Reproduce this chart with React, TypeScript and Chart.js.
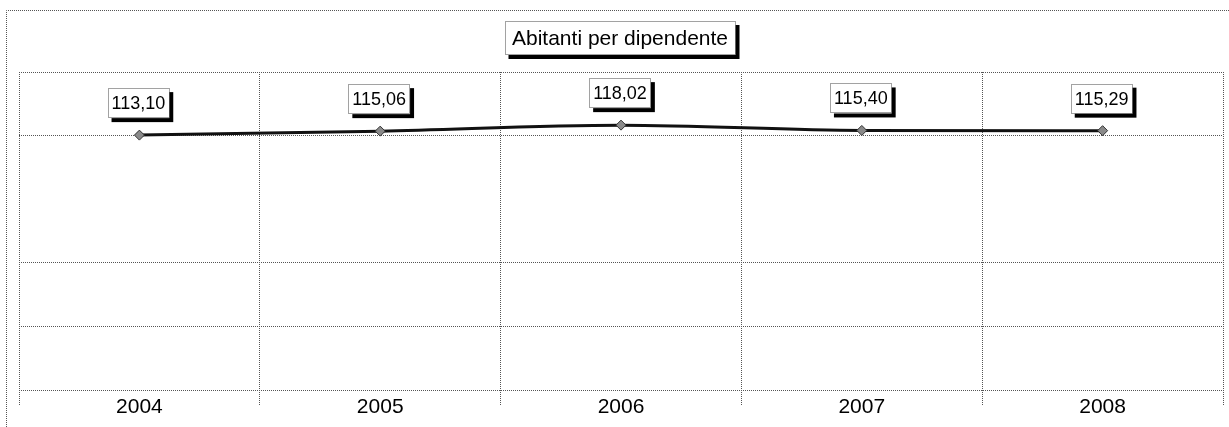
import React, { useEffect, useRef } from "react";
import { Chart, registerables } from "chart.js";

Chart.register(...registerables);

const TITLE = "Abitanti per dipendente";
const YEARS = ["2004", "2005", "2006", "2007", "2008"];
const VALUES = [113.10, 115.06, 118.02, 115.40, 115.29];
const Y_MIN = -12.5;
const Y_MAX = 144.2;
const Y_DIVISIONS = 5;
const HIDDEN_GRID_INDEX = 3;

const FONT = "'Liberation Sans', Arial, sans-serif";
const GRID = "#555";

function drawShadowBox(ctx: CanvasRenderingContext2D, x: number, y: number, w: number, h: number) {
  ctx.save();
  ctx.fillStyle = "#000";
  ctx.fillRect(x + 4, y + 4, w, h);
  ctx.fillStyle = "#fff";
  ctx.fillRect(x, y, w, h);
  ctx.strokeStyle = "#444";
  ctx.lineWidth = 1;
  ctx.setLineDash([1, 1]);
  ctx.strokeRect(Math.round(x) + 0.5, Math.round(y) + 0.5, Math.round(w) - 1, Math.round(h) - 1);
  ctx.restore();
}

const decorPlugin = {
  id: "decor",
  beforeDraw(chart: any) {
    const ctx = chart.ctx as CanvasRenderingContext2D;
    ctx.save();
    ctx.fillStyle = "#fff";
    ctx.fillRect(0, 0, chart.width, chart.height);
    ctx.strokeStyle = GRID;
    ctx.lineWidth = 1;
    ctx.setLineDash([1, 1]);
    ctx.beginPath();
    ctx.moveTo(6.5, chart.height);
    ctx.lineTo(6.5, 10.5);
    ctx.lineTo(chart.width, 10.5);
    ctx.stroke();
    ctx.restore();
  },
  afterDraw(chart: any) {
    const ctx = chart.ctx as CanvasRenderingContext2D;
    const area = chart.chartArea;
    ctx.save();
    ctx.font = `21px ${FONT}`;
    const tw = ctx.measureText(TITLE).width;
    const w = tw + 15;
    const h = 34;
    const cx = (area.left + area.right) / 2 - 1;
    const x = cx - w / 2;
    const y = 21;
    drawShadowBox(ctx, x, y, w, h);
    ctx.fillStyle = "#000";
    ctx.textAlign = "center";
    ctx.textBaseline = "middle";
    ctx.fillText(TITLE, cx, y + h / 2 + 1);

    const meta = chart.getDatasetMeta(0);
    ctx.font = `18px ${FONT}`;
    meta.data.forEach((pt: any, i: number) => {
      const label = VALUES[i].toFixed(2).replace(".", ",");
      const lw = ctx.measureText(label).width + 8;
      const lh = 30;
      const bx = pt.x - lw / 2 - 1;
      const by = pt.y - 17 - lh;
      drawShadowBox(ctx, bx, by, lw, lh);
      ctx.fillStyle = "#000";
      ctx.textAlign = "center";
      ctx.textBaseline = "middle";
      ctx.fillText(label, bx + lw / 2, by + lh / 2 + 1);
    });
    ctx.restore();
  },
};

export default function App() {
  const ref = useRef<HTMLCanvasElement | null>(null);
  useEffect(() => {
    document.body.style.margin = "0";
    if (!ref.current) return;
    const chart = new Chart(ref.current, {
      type: "line",
      data: {
        labels: YEARS,
        datasets: [
          {
            data: VALUES,
            borderColor: "#111",
            borderWidth: 3,
            cubicInterpolationMode: "monotone",
            pointStyle: "rectRot",
            pointRadius: 5,
            pointBackgroundColor: "#8a8a8a",
            pointBorderColor: "#333",
            pointBorderWidth: 1,
          },
        ],
      },
      options: {
        animation: false,
        responsive: false,
        events: [],
        layout: { padding: { left: 19, right: 4, top: 72, bottom: 0 } },
        plugins: {
          legend: { display: false },
          title: { display: false },
          tooltip: { enabled: false },
        },
        scales: {
          x: {
            offset: true,
            grid: {
              offset: true,
              color: GRID,
              lineWidth: 1,
              drawTicks: true,
              tickLength: 15,
              tickColor: GRID,
              tickBorderDash: [1, 1],
            },
            border: { display: false, color: GRID, dash: [1, 1] },
            ticks: {
              color: "#000",
              font: { family: FONT, size: 21 },
              padding: -10,
              maxRotation: 0,
            },
            afterFit(scale: any) {
              scale.height = 37;
            },
          },
          y: {
            min: Y_MIN,
            max: Y_MAX,
            afterBuildTicks(scale: any) {
              const step = (Y_MAX - Y_MIN) / Y_DIVISIONS;
              scale.ticks = Array.from({ length: Y_DIVISIONS + 1 }, (_, i) => ({ value: Y_MIN + i * step }));
            },
            grid: {
              color: (c: any) => (c.index === HIDDEN_GRID_INDEX ? "rgba(0,0,0,0)" : GRID),
              drawTicks: false,
            },
            border: { display: false, color: GRID, dash: [1, 1] },
            ticks: { display: false },
            afterFit(scale: any) {
              scale.width = 0;
            },
          },
        },
      },
      plugins: [decorPlugin],
    } as any);
    return () => chart.destroy();
  }, []);
  return <canvas ref={ref} width={1229} height={427} style={{ display: "block" }} />;
}
